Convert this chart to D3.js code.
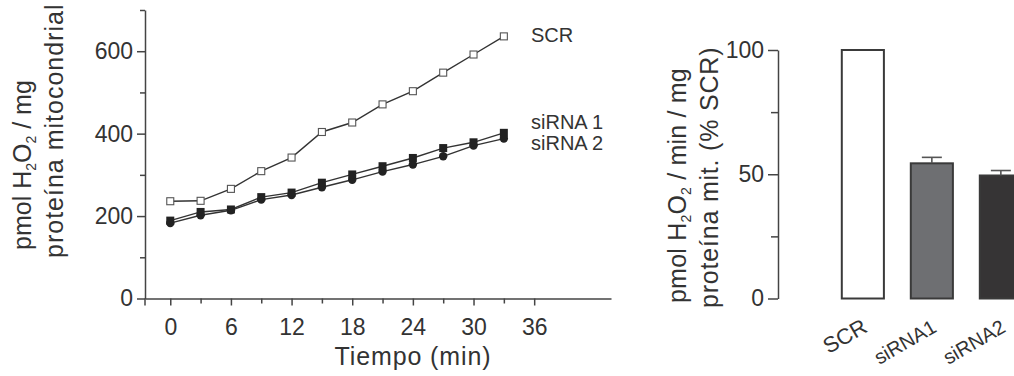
<!DOCTYPE html>
<html>
<head>
<meta charset="utf-8">
<script src="https://cdn.jsdelivr.net/npm/d3@7"></script>
<style>
    body { margin: 0; background: #fff; }
    text { font-family: "Liberation Sans", Arial, sans-serif; fill: #333; }
</style>
</head>
<body>
<script>
var width = 1014;
var height = 376;

// time course (left panel)
var times = [0, 3, 6, 9, 12, 15, 18, 21, 24, 27, 30, 33];
var scr = [236, 237, 266, 309, 342, 404, 427, 471, 503, 548, 592, 636];
var sirna1 = [189, 210, 216, 246, 257, 281, 301, 321, 341, 365, 379, 402];
var sirna2 = [183, 202, 214, 240, 251, 270, 288, 308, 325, 345, 371, 388];
var xTickLabels = [0, 6, 12, 18, 24, 30, 36];
var xMinorTicks = [3, 9, 15, 21, 27, 33];
var yTickLabels = [0, 200, 400, 600];
var yMinorTicks = [100, 300, 500, 700];

// rates (right panel)
var groups = ["SCR", "siRNA1", "siRNA2"];
var rates = [100, 54.4, 49.5];
var rateErrors = [0, 2.4, 2.0];
var rateTickLabels = [0, 50, 100];
var rateMinorTicks = [25, 75];

var ink = "#333";
var axisInk = "#444";

var svg = d3.select("body").append("svg")
    .attr("width", width)
    .attr("height", height);

// ---------- left panel ----------
var x = d3.scaleLinear().domain([-2.5, 43.6]).range([145, 611]);
var y = d3.scaleLinear().domain([0, 700]).range([298.5, 10]);

function styleAxis(g) {
    g.select(".domain").attr("stroke", axisInk).attr("stroke-width", 1.5);
    g.selectAll(".tick line").attr("stroke", axisInk).attr("stroke-width", 1.5);
    g.selectAll(".tick text").style("font-size", "23px").attr("fill", ink);
}

svg.append("g")
    .attr("transform", "translate(" + x(-2.5) + ",0)")
    .call(d3.axisLeft(y).tickValues(yMinorTicks).tickSize(5).tickSizeOuter(0).tickFormat(""))
    .call(styleAxis);

svg.append("g")
    .attr("transform", "translate(" + x(-2.5) + ",0)")
    .call(d3.axisLeft(y).tickValues(yTickLabels).tickSize(8).tickSizeOuter(0).tickPadding(4))
    .call(styleAxis)
    .call(function (g) { g.select(".domain").remove(); });

svg.append("g")
    .attr("transform", "translate(0," + y(0) + ")")
    .call(d3.axisBottom(x).tickValues(xMinorTicks).tickSize(5).tickSizeOuter(0).tickFormat(""))
    .call(styleAxis);

svg.append("g")
    .attr("transform", "translate(0," + y(0) + ")")
    .call(d3.axisBottom(x).tickValues(xTickLabels).tickSize(7).tickSizeOuter(0).tickPadding(13))
    .call(styleAxis)
    .call(function (g) { g.select(".domain").remove(); });

// y axis line runs a little past the x axis
svg.append("line")
    .attr("x1", x(-2.5)).attr("x2", x(-2.5))
    .attr("y1", y(0)).attr("y2", y(0) + 7)
    .attr("stroke", axisInk).attr("stroke-width", 1.5);

var line = d3.line()
    .x(function (d, i) { return x(times[i]); })
    .y(function (d) { return y(d); });

[sirna2, sirna1, scr].forEach(function (series) {
    svg.append("path")
        .datum(series)
        .attr("d", line)
        .attr("fill", "none")
        .attr("stroke", ink)
        .attr("stroke-width", 1.4);
});

svg.selectAll(".sirna2")
    .data(sirna2)
    .enter()
    .append("circle")
    .attr("class", "sirna2")
    .attr("cx", function (d, i) { return x(times[i]); })
    .attr("cy", function (d) { return y(d); })
    .attr("r", 4.2)
    .attr("fill", "#222");

svg.selectAll(".sirna1")
    .data(sirna1)
    .enter()
    .append("rect")
    .attr("class", "sirna1")
    .attr("x", function (d, i) { return x(times[i]) - 4; })
    .attr("y", function (d) { return y(d) - 4; })
    .attr("width", 8)
    .attr("height", 8)
    .attr("fill", "#222");

svg.selectAll(".scr")
    .data(scr)
    .enter()
    .append("rect")
    .attr("class", "scr")
    .attr("x", function (d, i) { return x(times[i]) - 3.5; })
    .attr("y", function (d) { return y(d) - 3.5; })
    .attr("width", 7)
    .attr("height", 7)
    .attr("fill", "#fff")
    .attr("stroke", "#555")
    .attr("stroke-width", 1.1);

svg.append("text").attr("x", 531).attr("y", 42).style("font-size", "20px").text("SCR");
svg.append("text").attr("x", 531).attr("y", 129).style("font-size", "20px").text("siRNA 1");
svg.append("text").attr("x", 531).attr("y", 150).style("font-size", "20px").text("siRNA 2");

svg.append("text")
    .attr("x", 413).attr("y", 365)
    .attr("text-anchor", "middle")
    .style("font-size", "25px")
    .style("letter-spacing", "0.9px")
    .text("Tiempo (min)");

function h2o2Label(t, before, after) {
    t.append("tspan").text(before + "H");
    t.append("tspan").attr("dy", 5).style("font-size", "14px").text("2");
    t.append("tspan").attr("dy", -5).text("O");
    t.append("tspan").attr("dy", 5).style("font-size", "14px").text("2");
    t.append("tspan").attr("dy", -5).text(after);
}

var yl1 = svg.append("text")
    .attr("transform", "translate(31,250) rotate(-90)")
    .style("font-size", "25px");
h2o2Label(yl1, "pmol ", " / mg");

svg.append("text")
    .attr("transform", "translate(63,258) rotate(-90)")
    .style("font-size", "25px")
    .style("letter-spacing", "1px")
    .text("proteína mitocondrial");

// ---------- right panel ----------
var xb = d3.scaleBand().domain(groups).range([828, 1035.7]).paddingInner(0.39).paddingOuter(0.2);
var yb = d3.scaleLinear().domain([0, 100]).range([298.5, 50]);

svg.append("g")
    .attr("transform", "translate(778,0)")
    .call(d3.axisLeft(yb).tickValues(rateMinorTicks).tickSize(7).tickSizeOuter(0).tickFormat(""))
    .call(styleAxis);

svg.append("g")
    .attr("transform", "translate(778,0)")
    .call(d3.axisLeft(yb).tickValues(rateTickLabels).tickSize(10).tickSizeOuter(0).tickPadding(4))
    .call(styleAxis)
    .call(function (g) { g.select(".domain").remove(); });

var barFills = ["#ffffff", "#6e6f72", "#363435"];

svg.selectAll(".bar")
    .data(rates)
    .enter()
    .append("rect")
    .attr("class", "bar")
    .attr("x", function (d, i) { return xb(groups[i]); })
    .attr("y", function (d) { return yb(d); })
    .attr("width", xb.bandwidth())
    .attr("height", function (d) { return yb(0) - yb(d); })
    .attr("fill", function (d, i) { return barFills[i]; })
    .attr("stroke", "#3a3a3a")
    .attr("stroke-width", 2);

rates.forEach(function (d, i) {
    if (!rateErrors[i]) return;
    var cx = xb(groups[i]) + xb.bandwidth() / 2;
    svg.append("line")
        .attr("x1", cx).attr("x2", cx)
        .attr("y1", yb(d)).attr("y2", yb(d + rateErrors[i]))
        .attr("stroke", "#555").attr("stroke-width", 1.6);
    svg.append("line")
        .attr("x1", cx - 10).attr("x2", cx + 10)
        .attr("y1", yb(d + rateErrors[i])).attr("y2", yb(d + rateErrors[i]))
        .attr("stroke", "#555").attr("stroke-width", 1.6);
});

svg.selectAll(".group-label")
    .data(groups)
    .enter()
    .append("text")
    .attr("class", "group-label")
    .attr("text-anchor", "end")
    .attr("transform", function (d) {
        return "translate(" + (xb(d) + xb.bandwidth() / 2 + 6) + ",331) rotate(-30)";
    })
    .style("font-size", function (d) { return d === "SCR" ? "22px" : "20px"; })
    .text(function (d) { return d; });

var rl1 = svg.append("text")
    .attr("transform", "translate(686,303) rotate(-90)")
    .style("font-size", "25px")
    .style("letter-spacing", "0.2px");
h2o2Label(rl1, "pmol ", " / min / mg");

svg.append("text")
    .attr("transform", "translate(718,308) rotate(-90)")
    .style("font-size", "25px")
    .style("letter-spacing", "0.8px")
    .text("proteína mit. (% SCR)");
</script>
</body>
</html>
